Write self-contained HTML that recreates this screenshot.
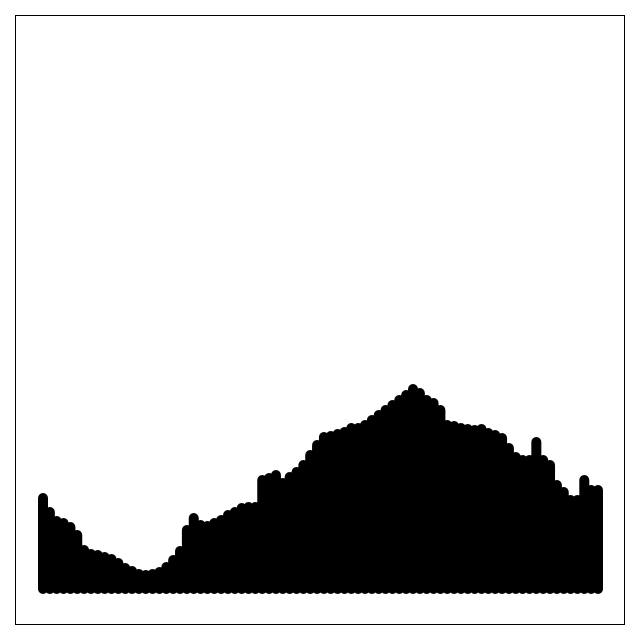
<!DOCTYPE html>
<html><head><meta charset="utf-8"><style>
html,body{margin:0;padding:0;background:#fff;width:640px;height:640px;overflow:hidden}
</style></head><body>
<svg id="chart" width="640" height="640" xmlns="http://www.w3.org/2000/svg">
<rect x="15.5" y="15.5" width="609" height="609" fill="none" stroke="#000" stroke-width="1"/>
<g id="bars"></g>
</svg>
<script>
const tops = [493,507,516,518,522,530,545,549,550,552,554,558,563,566,569,570,569,567,562,555,546,525,513,520,521,518,515,510,507,503,502,502,475,473,470,478,472,467,460,450,440,432,431,429,427,423,423,420,415,410,405,400,395,390,384,388,395,398,405,420,421,423,424,425,424,428,430,433,443,452,455,455,437,455,460,480,487,495,495,475,485,485];
const values = tops.map(t => 584 - t);
const x0 = 43, x1 = 598, base = 589;
function xScale(i){ return x0 + (x1 - x0) * i / (values.length - 1); }
function yScale(v){ return base - v; }
const g = document.getElementById('bars');
values.forEach((v, i) => {
  const l = document.createElementNS('http://www.w3.org/2000/svg', 'line');
  l.setAttribute('x1', xScale(i)); l.setAttribute('x2', xScale(i));
  l.setAttribute('y1', yScale(0)); l.setAttribute('y2', yScale(v));
  l.setAttribute('stroke', '#000'); l.setAttribute('stroke-width', '10');
  l.setAttribute('stroke-linecap', 'round');
  
  
  g.appendChild(l);
});
</script>
</body></html>
